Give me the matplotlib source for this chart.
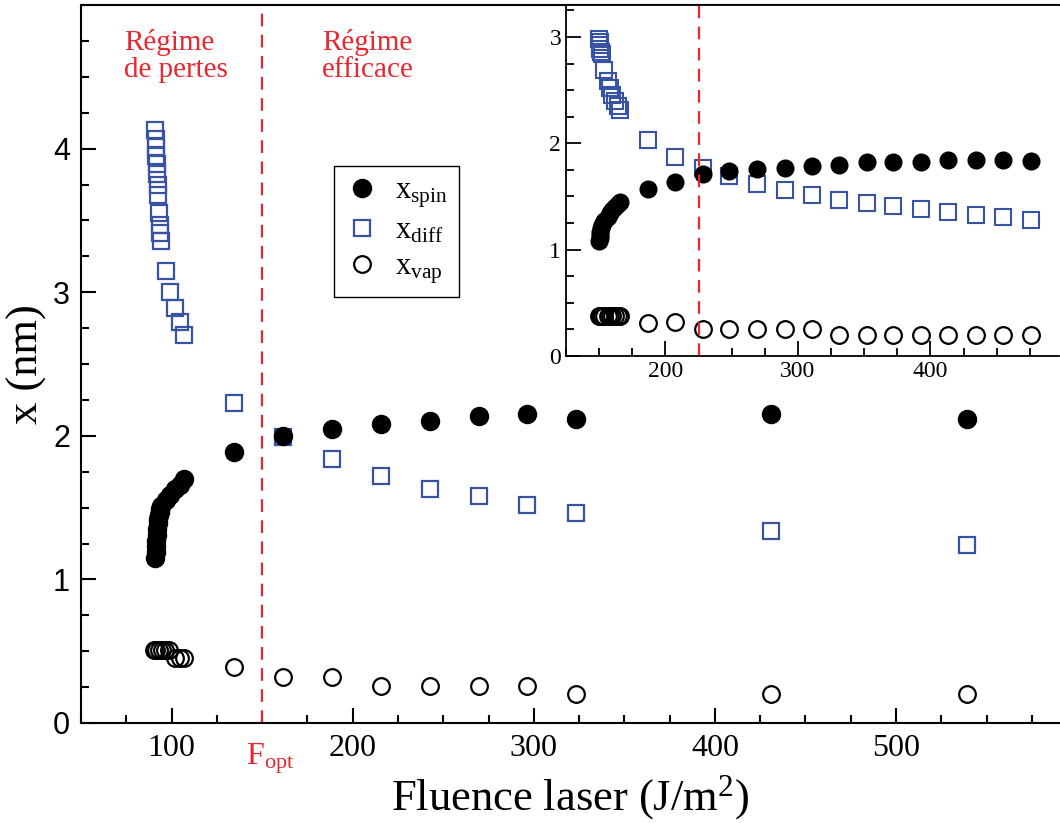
import matplotlib
matplotlib.use('Agg')
import matplotlib.pyplot as plt
from matplotlib.ticker import MultipleLocator

plt.rcParams['font.family'] = ['Liberation Serif', 'DejaVu Serif']
plt.rcParams['mathtext.fontset'] = 'custom'
plt.rcParams['mathtext.rm'] = 'Liberation Serif'
plt.rcParams['mathtext.it'] = 'Liberation Serif:italic'

blue = '#3953a4'
red = '#e8262e'

# main plot data (fluence in J/m^2, x in nm)
fl_main = [91.0, 91.2, 91.4, 91.6, 91.8, 92.0, 92.3, 92.6, 93.0, 93.4, 93.8, 94.2,
           96.7, 99.4, 101.7, 104.4, 107.0,
           134.5, 161.5, 188.5, 215.5, 242.5, 269.5, 296.5, 323.5, 431, 539]
spin_main = [1.15, 1.19, 1.23, 1.27, 1.31, 1.35, 1.39, 1.42, 1.45, 1.47, 1.49, 1.51,
             1.55, 1.59, 1.63, 1.66, 1.70,
             1.89, 2.00, 2.05, 2.08, 2.10, 2.14, 2.15, 2.12, 2.15, 2.12]
diff_main = [4.13, 4.07, 4.01, 3.95, 3.89, 3.82, 3.75, 3.68, 3.55, 3.47, 3.41, 3.36,
             3.15, 3.00, 2.89, 2.79, 2.70,
             2.23, 1.99, 1.84, 1.72, 1.63, 1.58, 1.52, 1.46, 1.34, 1.24]
fl_vap_main = [90.5, 91.5, 93.0, 94.5, 96.5, 98.5, 101.7, 104.4, 107.0,
               134.5, 161.5, 188.5, 215.5, 242.5, 269.5, 296.5, 323.5, 431, 539]
vap_main = [0.51, 0.51, 0.51, 0.51, 0.51, 0.51, 0.45, 0.45, 0.45,
            0.39, 0.32, 0.32, 0.26, 0.26, 0.26, 0.26, 0.20, 0.20, 0.20]
f_opt = 150

# inset data
fl_in = [150.0, 150.3, 150.6, 151.0, 151.5, 152.0, 154.0, 156.4, 158.0, 160.0, 162.0, 164.0, 166.0,
         187, 207.5, 228.6, 248, 269, 290, 310.5, 331, 352, 372, 393, 413.5, 434.5, 455, 476]
spin_in = [1.08, 1.11, 1.14, 1.17, 1.20, 1.23, 1.27, 1.31, 1.34, 1.37, 1.40, 1.43, 1.45,
           1.57, 1.64, 1.71, 1.74, 1.76, 1.77, 1.79, 1.80, 1.82, 1.82, 1.82, 1.84, 1.84, 1.84, 1.83]
diff_in = [2.98, 2.95, 2.92, 2.89, 2.86, 2.84, 2.69, 2.59, 2.52, 2.45, 2.40, 2.35, 2.31,
           2.03, 1.87, 1.77, 1.69, 1.62, 1.56, 1.51, 1.47, 1.44, 1.41, 1.38, 1.35, 1.33, 1.31, 1.28]
vap_in = [0.38, 0.38, 0.38, 0.38, 0.38, 0.38, 0.38, 0.38, 0.38, 0.38, 0.38, 0.38, 0.38,
          0.31, 0.32, 0.25, 0.25, 0.25, 0.25, 0.25, 0.20, 0.20, 0.20, 0.20, 0.20, 0.20, 0.20, 0.20]
f_opt_in = 225

fig = plt.figure(figsize=(10.6, 8.23), dpi=100)
ax = fig.add_axes([81/1060, 100/823, 978/1060, 718/823])

ax.plot(fl_main, diff_main, 's', ms=12, mfc='none', mec=blue, mew=1.6, ls='none', label=r'x$_{\rm diff}$')
ax.plot(fl_main, spin_main, 'o', ms=13, color='black', ls='none', label=r'x$_{\rm spin}$')
ax.plot(fl_vap_main, vap_main, 'o', ms=12, mfc='none', mec='black', mew=1.6, ls='none', label=r'x$_{\rm vap}$')
ax.axvline(f_opt, color=red, lw=1.6, dashes=(5.7, 3.8))

ax.set_xlim(50, 590)
ax.set_ylim(0, 5)
ax.xaxis.set_major_locator(MultipleLocator(100))
ax.xaxis.set_minor_locator(MultipleLocator(25))
ax.yaxis.set_major_locator(MultipleLocator(1))
ax.yaxis.set_minor_locator(MultipleLocator(0.25))
ax.tick_params(which='both', direction='in', width=1.5)
ax.tick_params(which='major', length=11)
ax.tick_params(which='minor', length=5.5)
ax.tick_params(axis='x', labelsize=23, pad=8)
ax.tick_params(axis='y', labelsize=22, pad=8)
ax.set_xticks([100, 200, 300, 400, 500])
ax.set_yticks([0, 1, 2, 3, 4])
for lab in ax.get_yticklabels():
    lab.set_family('Liberation Sans')
for s in ['left', 'bottom', 'top']:
    ax.spines[s].set_linewidth(1.5)
ax.spines['right'].set_visible(False)

ax.set_xlabel(r'Fluence laser (J/m$^2$)', fontsize=32, labelpad=7)
ax.set_ylabel('x (nm)', fontsize=32, labelpad=4)

ax.text(141, -0.13, r'F$_{\rm opt}$', color=red, fontsize=23, ha='left', va='top')
ax.text(74, 4.83, 'Régime\nde pertes', color=red, fontsize=21, ha='left', va='top', linespacing=1.05)
ax.text(183, 4.83, 'Régime\nefficace', color=red, fontsize=21, ha='left', va='top', linespacing=1.05)

h, l = ax.get_legend_handles_labels()
leg = ax.legend([h[1], h[0], h[2]], [l[1], l[0], l[2]], loc='upper left',
                bbox_to_anchor=(0.2587, 0.7758), borderaxespad=0, fontsize=22,
                fancybox=False, framealpha=1, edgecolor='black', handlelength=1.1,
                handletextpad=0.55, labelspacing=0.22, borderpad=0.35)
leg.get_frame().set_linewidth(1.0)

# inset
axi = fig.add_axes([566/1060, 467/823, 493/1060, 351/823])
axi.plot(fl_in, diff_in, 's', ms=11, mfc='none', mec=blue, mew=1.5, ls='none')
axi.plot(fl_in, spin_in, 'o', ms=12, color='black', ls='none')
axi.plot(fl_in, vap_in, 'o', ms=12, mfc='none', mec='black', mew=1.6, ls='none')
axi.plot([f_opt_in, f_opt_in], [0, 3.3], color=red, lw=1.6, dashes=(5.7, 3.8))
axi.set_xlim(125, 497)
axi.set_ylim(0, 3.3)
axi.xaxis.set_major_locator(MultipleLocator(100))
axi.xaxis.set_minor_locator(MultipleLocator(25))
axi.yaxis.set_major_locator(MultipleLocator(1))
axi.yaxis.set_minor_locator(MultipleLocator(0.25))
axi.tick_params(which='both', direction='in', width=1.3, labelsize=17)
axi.tick_params(which='major', length=11)
axi.tick_params(which='minor', length=5.5)
for s in ['left', 'bottom', 'top']:
    axi.spines[s].set_linewidth(1.3)
axi.spines['right'].set_visible(False)

fig.savefig('out.png', dpi=100)
